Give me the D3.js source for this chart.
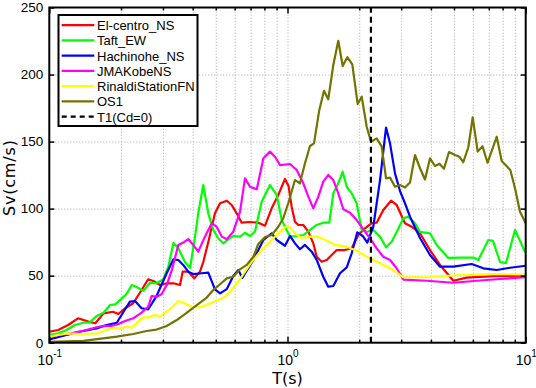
<!DOCTYPE html>
<html>
<head>
<meta charset="utf-8">
<script src="https://cdn.jsdelivr.net/npm/d3@7"></script>
<style>
  html, body { margin: 0; padding: 0; background: #fff; }
  svg { display: block; font-family: "Liberation Sans", Arial, sans-serif; }
</style>
</head>
<body>
<svg id="chart" width="536" height="388"></svg>
<script>
// ---- Data (period T in s, spectral velocity Sv in cm/s) ----
const seriesNames = ["El-centro_NS", "Taft_EW", "Hachinohe_NS", "JMAKobeNS", "RinaldiStationFN", "OS1"];
const seriesColors = ["#ff0000", "#00ff00", "#0000ff", "#ff00ff", "#ffff00", "#737300"];

const tElCentro = [0.100,0.109,0.120,0.132,0.146,0.156,0.169,0.185,0.195,0.208,0.225,0.244,0.260,0.273,0.292,0.311,0.332,0.354,0.363,0.383,0.406,0.429,0.443,0.465,0.496,0.521,0.556,0.583,0.612,0.642,0.696,0.754,0.805,0.858,0.915,0.976,1.010,1.041,1.075,1.110,1.165,1.223,1.283,1.326,1.392,1.461,1.533,1.609,1.743,1.860,1.983,2.115,2.257,2.368,2.525,2.720,2.873,3.113,3.322,3.600,3.965,4.367,4.967,5.653,7.312,10];
const svElCentro = [8.2,9.5,13.2,18.2,15.7,14.5,21.9,23.1,21.4,25.7,29.4,39.3,47.3,46.0,43.0,44.3,44.3,43.0,53.0,53.0,48.0,53.0,60.2,75.1,96.5,104.0,105.9,102.7,96.5,89.5,90.0,89.5,87.3,100.2,110.2,122.1,116.9,101.4,90.2,87.8,87.8,82.8,74.1,64.1,60.4,61.7,65.4,69.1,69.1,70.4,80.3,85.3,89.1,89.5,99.0,105.9,102.7,89.1,86.5,81.6,69.1,58.0,46.2,48.5,49.7,50.1];

const tTaft = [0.100,0.109,0.118,0.128,0.139,0.148,0.158,0.169,0.180,0.189,0.198,0.211,0.222,0.233,0.248,0.265,0.282,0.301,0.316,0.332,0.348,0.371,0.390,0.409,0.422,0.443,0.465,0.488,0.512,0.538,0.564,0.592,0.632,0.663,0.696,0.730,0.779,0.844,0.901,0.946,0.976,1.025,1.093,1.165,1.243,1.326,1.413,1.498,1.557,1.634,1.705,1.773,1.860,1.952,2.049,2.163,2.292,2.446,2.592,2.738,2.873,3.063,3.215,3.430,3.600,3.965,4.230,4.733,5.299,6.026,6.324,6.966,7.291,7.801,8.267,9.020,10];
const svTaft = [5.7,7.0,9.5,13.2,14.9,15.2,19.9,22.4,28.1,28.6,31.8,36.3,43.0,41.3,38.8,44.7,44.3,47.3,56.7,74.4,70.6,60.2,55.7,79.1,96.5,117.6,96.5,84.1,77.9,74.1,77.1,79.6,79.1,82.0,79.6,82.8,105.2,117.6,110.2,91.5,86.5,79.1,79.6,80.3,84.1,87.8,89.5,89.5,111.4,118.9,127.5,116.3,111.4,104.0,84.1,82.8,84.1,79.1,71.2,75.3,82.6,92.8,94.0,89.1,82.6,81.6,72.9,63.2,63.4,63.5,61.7,76.6,75.9,60.2,59.4,84.1,66.7];

const tHachinohe = [0.100,0.118,0.139,0.158,0.174,0.192,0.205,0.218,0.229,0.244,0.260,0.282,0.311,0.332,0.348,0.365,0.383,0.402,0.436,0.465,0.496,0.521,0.556,0.592,0.622,0.646,0.719,0.792,0.858,0.901,0.976,1.025,1.075,1.128,1.184,1.264,1.326,1.413,1.483,1.557,1.661,1.773,1.860,1.963,2.069,2.163,2.292,2.446,2.592,2.694,2.827,2.967,3.113,3.268,3.600,3.965,4.367,4.967,5.933,6.637,7.555,8.593,10];
const svHachinohe = [2.5,5.7,8.7,10.7,13.2,14.9,23.1,30.6,31.1,25.7,24.9,34.8,51.8,62.2,61.7,58.0,53.0,51.2,51.8,52.2,39.8,36.8,40.0,49.7,54.2,48.3,61.7,76.6,81.6,76.6,72.3,79.6,74.1,69.7,72.9,67.9,61.7,49.2,41.8,42.3,51.8,56.2,66.7,82.3,79.6,74.6,86.5,121.3,160.5,148.7,126.3,113.1,104.0,94.0,78.1,65.4,56.7,56.7,58.7,55.5,54.2,55.9,57.4];

const tKobe = [0.100,0.118,0.139,0.158,0.169,0.183,0.195,0.208,0.225,0.244,0.260,0.269,0.282,0.296,0.311,0.327,0.348,0.365,0.383,0.402,0.422,0.450,0.481,0.504,0.530,0.556,0.592,0.632,0.663,0.696,0.743,0.792,0.844,0.886,0.930,1.025,1.093,1.165,1.223,1.283,1.347,1.413,1.483,1.557,1.634,1.715,1.830,1.952,2.081,2.220,2.368,2.525,2.694,2.873,3.063,3.840,4.967,6.228,7.801,10];
const svKobe = [4.5,6.5,8.9,11.5,12.5,12.5,13.9,16.2,18.2,22.4,26.8,34.8,34.3,36.1,43.0,54.2,72.9,74.7,77.3,72.9,67.9,79.1,89.1,86.5,79.1,77.1,82.8,97.7,122.6,116.3,114.4,137.5,142.5,138.7,132.5,133.3,128.8,118.9,108.9,100.2,108.9,120.1,125.1,121.3,111.4,99.5,97.0,91.5,84.6,77.9,70.4,64.1,61.7,55.5,47.1,46.2,44.7,46.2,47.5,48.8];

const tRinaldi = [0.100,0.118,0.139,0.158,0.174,0.185,0.198,0.211,0.222,0.236,0.248,0.260,0.278,0.292,0.311,0.332,0.348,0.371,0.396,0.422,0.458,0.504,0.547,0.583,0.642,0.708,0.779,0.858,0.930,0.992,1.025,1.075,1.147,1.243,1.347,1.461,1.583,1.773,1.952,2.150,2.446,2.782,3.063,3.840,5.299,7.312,10];
const svRinaldi = [4.5,7.0,6.5,7.0,9.5,11.2,10.7,11.9,11.2,15.7,18.9,18.9,20.7,19.4,23.1,27.4,31.1,29.4,26.8,26.3,28.1,31.5,34.3,39.3,49.2,60.4,69.1,76.6,82.8,87.0,85.9,81.8,77.9,79.1,79.1,76.1,72.9,71.6,68.6,64.1,59.2,54.2,48.8,48.8,50.5,51.1,51.0];

const tOS1 = [0.100,0.139,0.192,0.225,0.256,0.282,0.311,0.343,0.377,0.416,0.458,0.488,0.521,0.556,0.592,0.632,0.674,0.719,0.754,0.805,0.858,0.915,0.960,1.008,1.075,1.128,1.184,1.243,1.292,1.360,1.423,1.483,1.557,1.634,1.705,1.783,1.871,1.971,2.049,2.150,2.242,2.368,2.486,2.592,2.694,2.827,2.967,3.113,3.268,3.430,3.600,3.778,3.965,4.161,4.347,4.540,4.764,5.049,5.263,5.470,5.741,5.991,6.288,6.587,6.914,7.555,7.931,8.617,9.020,9.465,10];
const svOS1 = [0.7,1.3,4.5,6.5,8.7,9.8,12.5,16.9,22.2,28.1,33.7,39.3,43.6,48.0,49.2,54.7,58.0,64.1,73.6,78.8,80.3,86.5,92.8,104.2,121.3,118.9,133.8,146.7,148.7,173.6,187.9,181.5,207.1,225.2,206.4,212.9,207.6,178.0,183.5,161.1,149.9,152.4,146.2,122.6,123.1,116.3,117.6,115.8,119.5,140.0,130.1,121.7,137.5,131.8,133.5,129.7,142.2,140.0,138.7,134.6,145.6,168.1,142.5,146.5,134.2,153.6,135.5,128.8,115.2,97.7,89.1];

const periodT1 = 2.24;            // T1(Cd=0)
const yTicks = [0, 50, 100, 150, 200, 250];
const xMajorTicks = [0.1, 1, 10];
const xMajorExponents = ["-1", "0", "1"];
const xMinorTicks = [0.2,0.3,0.4,0.5,0.6,0.7,0.8,0.9,2,3,4,5,6,7,8,9];

const seriesT = [tElCentro, tTaft, tHachinohe, tKobe, tRinaldi, tOS1];
const seriesSv = [svElCentro, svTaft, svHachinohe, svKobe, svRinaldi, svOS1];

// ---- Layout ----
const svg = d3.select("#chart");
const L = 49.3, R = 525.7, T = 7.5, B = 342.7;
const x = d3.scaleLog().domain([0.1, 10]).range([L, R]);
const y = d3.scaleLinear().domain([0, 250]).range([B, T]);

// Grid
const gridStyle = g => g.selectAll("line").attr("stroke", "#a8a8a8").attr("stroke-width", 1).attr("stroke-dasharray", "1,2");
svg.append("g").attr("transform", `translate(0,${B})`)
  .call(d3.axisBottom(x).tickValues(xMinorTicks.concat([1])).tickSize(-(B - T)).tickFormat(""))
  .call(g => g.select(".domain").remove()).call(gridStyle);
svg.append("g").attr("transform", `translate(${L},0)`)
  .call(d3.axisLeft(y).tickValues([50, 100, 150, 200]).tickSize(-(R - L)).tickFormat(""))
  .call(g => g.select(".domain").remove()).call(gridStyle);

// Curves
const line = d3.line().x(d => x(d[0])).y(d => y(d[1]));
seriesNames.forEach((name, i) => {
  svg.append("path")
    .datum(d3.zip(seriesT[i], seriesSv[i]))
    .attr("fill", "none")
    .attr("stroke", seriesColors[i])
    .attr("stroke-width", 2.2)
    .attr("stroke-linejoin", "round")
    .attr("d", line);
});

// T1 dashed line
svg.append("line")
  .attr("x1", x(periodT1)).attr("x2", x(periodT1))
  .attr("y1", y(0)).attr("y2", y(250))
  .attr("stroke", "#000").attr("stroke-width", 2.2).attr("stroke-dasharray", "6,4");

// Axes (inward ticks)
const axisStyle = g => {
  g.select(".domain").remove();
  g.selectAll("line").attr("stroke", "#000").attr("stroke-width", 1.5);
  g.selectAll("text").attr("font-size", 13.5).attr("fill", "#000");
};
// left
svg.append("g").attr("transform", `translate(${L},0)`)
  .call(d3.axisLeft(y).tickValues(yTicks).tickSizeInner(-5).tickSizeOuter(0).tickPadding(6).tickFormat(d3.format("d")))
  .call(axisStyle);
// right
svg.append("g").attr("transform", `translate(${R},0)`)
  .call(d3.axisRight(y).tickValues(yTicks).tickSizeInner(-5).tickSizeOuter(0).tickFormat(""))
  .call(axisStyle);
// bottom major + minor
const bottomMajor = svg.append("g").attr("transform", `translate(0,${B})`)
  .call(d3.axisBottom(x).tickValues(xMajorTicks).tickSizeInner(-6).tickSizeOuter(0).tickFormat(""))
  .call(axisStyle);
svg.append("g").attr("transform", `translate(0,${B})`)
  .call(d3.axisBottom(x).tickValues(xMinorTicks).tickSizeInner(-3).tickSizeOuter(0).tickFormat(""))
  .call(axisStyle);
// top major + minor
svg.append("g").attr("transform", `translate(0,${T})`)
  .call(d3.axisTop(x).tickValues(xMajorTicks).tickSizeInner(-6).tickSizeOuter(0).tickFormat(""))
  .call(axisStyle);
svg.append("g").attr("transform", `translate(0,${T})`)
  .call(d3.axisTop(x).tickValues(xMinorTicks).tickSizeInner(-3).tickSizeOuter(0).tickFormat(""))
  .call(axisStyle);

// bottom labels 10^n
bottomMajor.selectAll(".tick").each(function(d, i) {
  const t = d3.select(this).append("text")
    .attr("y", 22).attr("fill", "#000").attr("font-size", 14)
    .attr("text-anchor", "middle");
  t.append("tspan").text("10");
  t.append("tspan").attr("dy", -8).attr("font-size", 10).text(xMajorExponents[i]);
});

// frame
svg.append("rect")
  .attr("x", L).attr("y", T).attr("width", R - L).attr("height", B - T)
  .attr("fill", "none").attr("stroke", "#000").attr("stroke-width", 2);

// axis titles
svg.append("text")
  .attr("x", (x(0.1) + x(10)) / 2).attr("y", 384)
  .attr("text-anchor", "middle").attr("font-size", 16).attr("fill", "#000")
  .attr("font-family", "'DejaVu Sans', sans-serif")
  .text("T(s)");
svg.append("text")
  .attr("transform", `translate(15,${(y(0) + y(250)) / 2 + 3}) rotate(-90)`)
  .attr("text-anchor", "middle").attr("font-size", 16).attr("fill", "#000")
  .attr("font-family", "'DejaVu Sans', sans-serif")
  .attr("textLength", 76).attr("lengthAdjust", "spacing")
  .text("Sv(cm/s)");

// legend
const legend = svg.append("g");
legend.append("rect")
  .attr("x", 58.5).attr("y", 15).attr("width", 139).attr("height", 111)
  .attr("fill", "#fff").attr("stroke", "#000").attr("stroke-width", 2);
const legendItems = seriesNames.map((n, i) => ({ name: n, color: seriesColors[i], dash: null }))
  .concat([{ name: "T1(Cd=0)", color: "#000", dash: "5,4" }]);
legendItems.forEach((it, i) => {
  const cy = 25.2 + i * 15.25;
  legend.append("line")
    .attr("x1", 61.7).attr("x2", 94.3).attr("y1", cy).attr("y2", cy)
    .attr("stroke", it.color).attr("stroke-width", 2.2)
    .attr("stroke-dasharray", it.dash);
  legend.append("text")
    .attr("x", 97).attr("y", cy + 4.8)
    .attr("font-size", 13).attr("fill", "#000")
    .text(it.name);
});
</script>
</body>
</html>
